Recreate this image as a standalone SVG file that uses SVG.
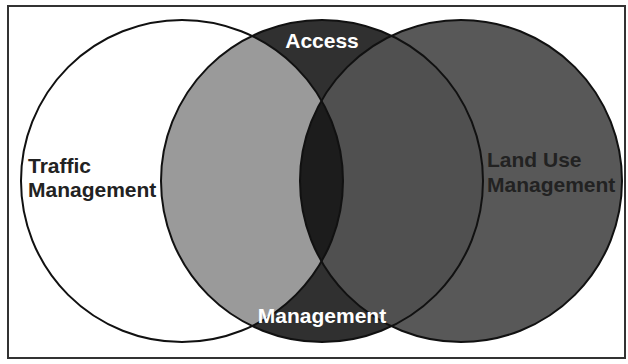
<svg xmlns="http://www.w3.org/2000/svg" width="628" height="364" viewBox="0 0 628 364">
  <style>
    .outline { fill: none; stroke: #111; stroke-width: 2; }
    .label { font-family: "Liberation Sans", Arial, sans-serif; font-weight: bold; font-size: 21px; }
    .dark { fill: #222; }
    .light { fill: #fff; }
  </style>
  <defs>
    <circle id="c-traffic" cx="182" cy="181" r="161"/>
    <circle id="c-access" cx="322" cy="181" r="161"/>
    <circle id="c-landuse" cx="461" cy="181" r="161"/>
    <clipPath id="clip-traffic"><use href="#c-traffic"/></clipPath>
    <clipPath id="clip-access"><use href="#c-access"/></clipPath>
    <clipPath id="clip-landuse"><use href="#c-landuse"/></clipPath>
  </defs>

  <!-- frame -->
  <rect x="8" y="6" width="617" height="352" fill="#fff" stroke="#333" stroke-width="2"/>

  <!-- base fills -->
  <g id="traffic-management">
    <use href="#c-traffic" fill="#fff"/>
  </g>
  <g id="land-use-management">
    <use href="#c-landuse" fill="#585858"/>
  </g>
  <g id="access-management">
    <use href="#c-access" fill="#303030"/>
    <!-- overlap with traffic -->
    <g clip-path="url(#clip-access)">
      <use href="#c-traffic" fill="#9a9a9a"/>
    </g>
    <!-- overlap with land use -->
    <g clip-path="url(#clip-access)">
      <use href="#c-landuse" fill="#505050"/>
    </g>
    <!-- triple overlap -->
    <g clip-path="url(#clip-access)">
      <g clip-path="url(#clip-traffic)">
        <use href="#c-landuse" fill="#1c1c1c"/>
      </g>
    </g>
  </g>

  <!-- outlines -->
  <g id="outlines">
    <use href="#c-traffic" class="outline"/>
    <use href="#c-access" class="outline"/>
    <use href="#c-landuse" class="outline"/>
  </g>

  <!-- labels -->
  <g id="labels">
    <text class="label light" x="322" y="48" text-anchor="middle">Access</text>
    <text class="label light" x="322" y="323" text-anchor="middle">Management</text>
    <text class="label dark" x="28" y="173">Traffic</text>
    <text class="label dark" x="28" y="197">Management</text>
    <text class="label dark" x="487" y="167">Land Use</text>
    <text class="label dark" x="487" y="192">Management</text>
  </g>
</svg>
